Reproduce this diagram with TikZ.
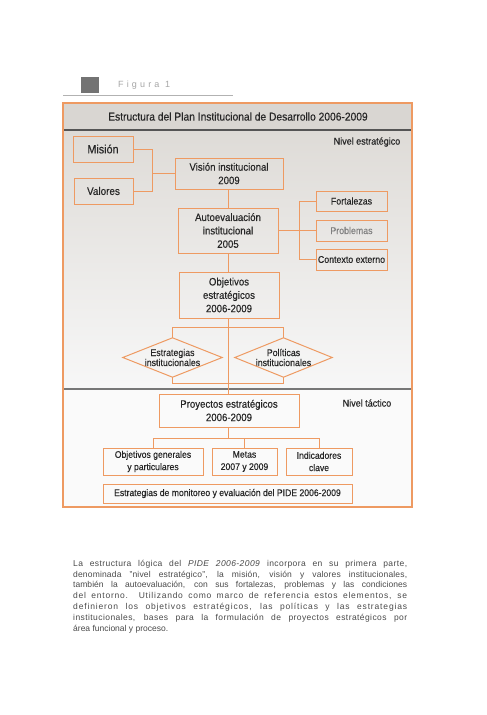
\documentclass[tikz,border=0pt]{standalone}
\usepackage{fontspec}
\setmainfont{Liberation Sans}
\newfontfamily\cond[FakeStretch=0.9,FakeBold=0.25]{Liberation Sans}
\newfontfamily\figfont[LetterSpace=35]{Liberation Sans}
\usetikzlibrary{calc}
\definecolor{orng}{HTML}{EE9A62}
\definecolor{bandgray}{HTML}{D9D6D2}
\definecolor{topgray}{HTML}{DEDBD7}
\definecolor{sepgray}{HTML}{555555}
\definecolor{bodytext}{HTML}{4A4A4A}
\newcommand{\pline}[2]{\addfontfeature{LetterSpace=#1}\makebox[334pt][s]{#2}}
\tikzset{
  box/.style={draw=orng, line width=1pt, inner sep=1pt, align=center,
    font=\cond\fontsize{10.7}{13.4}\selectfont, text=black!85},
  smallbox/.style={box, font=\cond\fontsize{9.8}{11}\selectfont},
  dia/.style={inner sep=0pt, align=center, font=\cond\fontsize{9.8}{10}\selectfont, text=black!85},
  conn/.style={draw=orng, line width=1pt},
  lbl/.style={font=\cond\fontsize{10}{12}\selectfont, text=black!85},
  para/.style={anchor=west, inner sep=0pt, font=\fontsize{8.5}{10}\selectfont, text=bodytext},
}
\begin{document}
\begin{tikzpicture}[x=1pt,y=-1pt]
\useasboundingbox (0,0) rectangle (487,715);
\fill[white] (0,0) rectangle (487,715);
% header
\fill[black!55] (81,77) rectangle (99,93);
\node[anchor=west, inner sep=0pt, font=\figfont\fontsize{9}{10}\selectfont, text=black!35] (fig) at (118,85) {Figura 1};
\draw[black!30, line width=1pt] (63,95) -- (233,95);
% frame backgrounds
\fill[bandgray] (63,103) rectangle (412,130);
\shade[top color=topgray, bottom color=white!97!black] (63,130) rectangle (412,389);
\fill[white!98!black] (63,389) rectangle (412,507);
\draw[sepgray, line width=1.2pt] (63,130) -- (412,130);
\draw[sepgray!80, line width=1.2pt] (63,389) -- (412,389);
\draw[orng, line width=1.3pt] (63,103) rectangle (412,507);
\node[font=\cond\fontsize{11.4}{12}\selectfont, text=black!85] (title) at (238,116.5) {Estructura del Plan Institucional de Desarrollo 2006-2009};
\node[lbl] (nivest) at (367,142) {Nivel estratégico};
\node[lbl] (nivtac) at (367,403) {Nivel táctico};
% boxes
\node[box, minimum width=60, minimum height=26, font=\cond\fontsize{12}{13}\selectfont] (mision) at (103,149) {Misión};
\node[box, minimum width=59, minimum height=26, font=\cond\fontsize{11}{12}\selectfont] (valores) at (103.5,191) {Valores};
\node[box, minimum width=108, minimum height=31] (vision) at (229,173.5) {Visión institucional\\2009};
\node[box, minimum width=100, minimum height=45] (auto) at (228,230.5) {Autoevaluación\\institucional\\2005};
\node[smallbox, minimum width=71, minimum height=20] (fort) at (351.5,201) {Fortalezas};
\node[smallbox, minimum width=71, minimum height=21, text=black!50] (prob) at (351.5,230.5) {Problemas};
\node[smallbox, minimum width=71, minimum height=21] (ctx) at (351.5,259.5) {Contexto externo};
\node[box, minimum width=100, minimum height=46] (obj) at (229,295) {Objetivos\\estratégicos\\2006-2009};
\node[dia, minimum width=99, minimum height=39] (estr) at (172.5,357.5) {Estrategias\\institucionales};
\node[dia, minimum width=97, minimum height=39] (pol) at (283.5,357.5) {Políticas\\institucionales};
\draw[conn] (estr.north) -- (estr.east) -- (estr.south) -- (estr.west) -- cycle;
\draw[conn] (pol.north) -- (pol.east) -- (pol.south) -- (pol.west) -- cycle;
\node[box, minimum width=140, minimum height=33] (proy) at (229,410.5) {Proyectos estratégicos\\2006-2009};
\node[smallbox, minimum width=100, minimum height=27, font=\cond\fontsize{9.6}{12.3}\selectfont] (objgen) at (153,461.5) {Objetivos generales\\y particulares};
\node[smallbox, minimum width=65, minimum height=27, font=\cond\fontsize{9.6}{12.3}\selectfont] (metas) at (244.5,461.5) {Metas\\2007 y 2009};
\node[smallbox, minimum width=66, minimum height=27, font=\cond\fontsize{9.6}{12.3}\selectfont] (ind) at (319,461.5) {Indicadores\\clave};
\node[smallbox, minimum width=249, minimum height=19, font=\cond\fontsize{9.6}{12}\selectfont] (monit) at (227.5,493.5) {Estrategias de monitoreo y evaluación del PIDE 2006-2009};
% connectors
\coordinate (mvj) at (152,173.5);
\draw[conn] (mision.east) -| (mvj);
\draw[conn] (valores.east) -| (mvj);
\draw[conn] (mvj) -- (vision.west);
\draw[conn] (vision.south -| auto.north) -- (auto.north);
\coordinate (aj) at (299,230.5);
\draw[conn] (auto.east) -- (prob.west);
\draw[conn] (fort.west) -| (aj);
\draw[conn] (ctx.west) -| (aj);
\draw[conn] (auto.south) -- (obj.north -| auto.south);
\draw[conn] (obj.south -| auto.south) -- (proy.north -| auto.south);
\draw[conn] (estr.north) -- ++(0,-10) -| (pol.north);
\draw[conn] (estr.south) -- ++(0,6) -| (pol.south);
\coordinate (pj) at (228,439);
\draw[conn] (proy.south -| pj) -- (pj);
\draw[conn] (objgen.north) -- ++(0,-9) -| (ind.north);
\draw[conn] (metas.north) -- ++(0,-9);
% paragraph
\node[para] (p1) at (73,564) {\pline{5}{La estructura lógica del \textit{PIDE 2006-2009} incorpora en su primera parte,}};
\node[para] (p2) at (73,574.8) {\pline{2}{denominada "nivel estratégico", la misión, visión y valores institucionales,}};
\node[para] (p3) at (73,585.6) {\pline{0.5}{también la autoevaluación, con sus fortalezas, problemas y las condiciones}};
\node[para] (p4) at (73,596.4) {\pline{9}{del entorno. Utilizando como marco de referencia estos elementos, se}};
\node[para] (p5) at (73,607.2) {\pline{10}{definieron los objetivos estratégicos, las políticas y las estrategias}};
\node[para] (p6) at (73,618) {\pline{5}{institucionales, bases para la formulación de proyectos estratégicos por}};
\node[para] (p7) at (73,628.8) {área funcional y proceso.};
\end{tikzpicture}
\end{document}
